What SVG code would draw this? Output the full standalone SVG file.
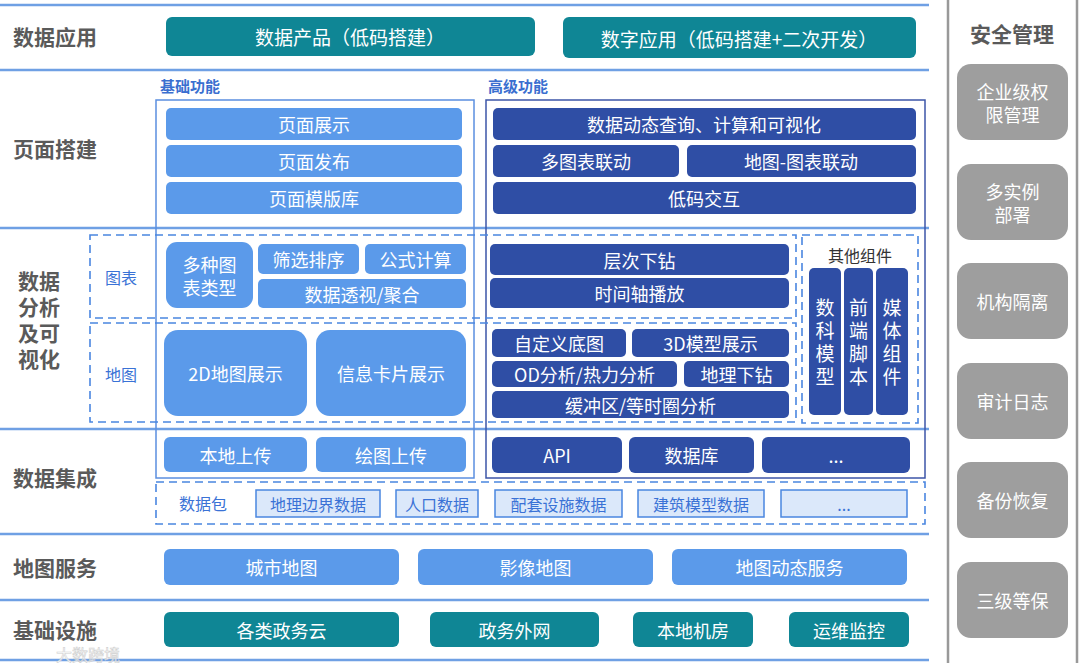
<svg xmlns="http://www.w3.org/2000/svg" width="1080" height="663" viewBox="0 0 1080 663">
<style>
text{font-family:"Noto Sans CJK SC","Noto Sans",sans-serif;}
.row{font-size:21px;font-weight:bold;fill:#5a5a5a;}
.sec{font-size:15px;font-weight:bold;fill:#3a6fd0;}
.lbl{font-size:16px;fill:#3a72d6;}
.wt{font-size:18px;fill:#ffffff;text-anchor:middle;dominant-baseline:central;}
.wl{font-size:19px;fill:#ffffff;text-anchor:middle;dominant-baseline:central;}
.teal{fill:#0f8695;}
.lb{fill:#5b9aea;}
.db{fill:#2f4ea5;}
.gray{fill:#9e9e9e;}
.pk{fill:#dbe8fa;stroke:#4a86e0;stroke-width:1.5;}
.pkt{font-size:16px;fill:#3a72d6;text-anchor:middle;dominant-baseline:central;}
.sep{stroke:#6fa0e4;stroke-width:2.5;}
.dash{fill:none;stroke:#4a86e0;stroke-width:1.6;stroke-dasharray:8 5;}
.vline{stroke:#999999;stroke-width:2.5;}
.sq{font-size:19px;fill:#ffffff;text-anchor:middle;writing-mode:vertical-rl;letter-spacing:4px;}
</style>
<rect width="1080" height="663" fill="#ffffff"/>

<g id="separators">
<line class="sep" x1="0" y1="5" x2="929" y2="5"/>
<line class="sep" x1="0" y1="70" x2="929" y2="70"/>
<line class="sep" x1="0" y1="228" x2="929" y2="228"/>
<line class="sep" x1="0" y1="429" x2="929" y2="429"/>
<line class="sep" x1="0" y1="534" x2="929" y2="534"/>
<line class="sep" x1="0" y1="600" x2="929" y2="600"/>
<line class="sep" x1="0" y1="660" x2="929" y2="660"/>
<line class="vline" x1="948" y1="0" x2="948" y2="663"/>
<line class="vline" x1="1077" y1="0" x2="1077" y2="663"/>
</g>

<g id="row-labels">
<text class="row" x="13" y="45">数据应用</text>
<text class="row" x="13" y="157">页面搭建</text>
<text class="row" x="18" y="289">数据</text>
<text class="row" x="18" y="315">分析</text>
<text class="row" x="18" y="341">及可</text>
<text class="row" x="18" y="367">视化</text>
<text class="row" x="13" y="486">数据集成</text>
<text class="row" x="13" y="576">地图服务</text>
<text class="row" x="13" y="638">基础设施</text>
</g>

<g id="data-app">
<g id="n-data-product"><rect class="teal" x="166" y="17" width="369" height="39" rx="6"/><text class="wl" x="350" y="36">数据产品（低码搭建）</text></g>
<g id="n-digital-app"><rect class="teal" x="563" y="17" width="353" height="41" rx="6"/><text class="wl" x="739" y="38">数字应用（低码搭建+二次开发）</text></g>
</g>

<g id="frames">
<text class="sec" x="160" y="92">基础功能</text>
<text class="sec" x="488" y="92">高级功能</text>
<rect x="156" y="100" width="318" height="378" fill="none" stroke="#5b8fe0" stroke-width="1.5"/>
<rect x="486" y="100" width="439" height="378" fill="none" stroke="#3c55a8" stroke-width="1.5"/>
<rect class="dash" x="90" y="235" width="706" height="83"/>
<rect class="dash" x="90" y="323" width="706" height="99"/>
<rect class="dash" x="802" y="235" width="116" height="188"/>
<rect class="dash" x="156" y="482" width="769" height="42"/>
<text class="lbl" x="121" y="277" text-anchor="middle" dominant-baseline="central">图表</text>
<text class="lbl" x="121" y="374" text-anchor="middle" dominant-baseline="central">地图</text>
<text x="860" y="255" font-size="16" fill="#333333" text-anchor="middle" dominant-baseline="central">其他组件</text>
<text class="lbl" x="203" y="503" text-anchor="middle" dominant-baseline="central">数据包</text>
</g>

<g id="page-basic">
<g id="n-page-show"><rect class="lb" x="166" y="108" width="296" height="32" rx="5"/><text class="wt" x="314" y="124">页面展示</text></g>
<g id="n-page-pub"><rect class="lb" x="166" y="145" width="296" height="32" rx="5"/><text class="wt" x="314" y="161">页面发布</text></g>
<g id="n-page-tpl"><rect class="lb" x="166" y="182" width="296" height="32" rx="5"/><text class="wt" x="314" y="198">页面模版库</text></g>
</g>

<g id="page-adv">
<g id="n-dyn"><rect class="db" x="493" y="108" width="423" height="32" rx="5"/><text class="wt" x="704" y="124">数据动态查询、计算和可视化</text></g>
<g id="n-multi"><rect class="db" x="493" y="145" width="186" height="32" rx="5"/><text class="wt" x="586" y="161">多图表联动</text></g>
<g id="n-mapchart"><rect class="db" x="687" y="145" width="229" height="32" rx="5"/><text class="wt" x="801" y="161">地图-图表联动</text></g>
<g id="n-lowcode"><rect class="db" x="493" y="182" width="423" height="32" rx="5"/><text class="wt" x="704" y="198">低码交互</text></g>
</g>

<g id="analysis-basic">
<g id="n-chart-types"><rect class="lb" x="166" y="242" width="87" height="66" rx="11"/><text class="wt" font-size="19"><tspan x="209.500" y="264">多种图</tspan><tspan x="209.500" y="287">表类型</tspan></text></g>
<g id="n-filter"><rect class="lb" x="258" y="244" width="101" height="30" rx="5"/><text class="wt" x="308.500" y="259">筛选排序</text></g>
<g id="n-formula"><rect class="lb" x="365" y="244" width="101" height="30" rx="5"/><text class="wt" x="415.500" y="259">公式计算</text></g>
<g id="n-pivot"><rect class="lb" x="258" y="279" width="208" height="29" rx="5"/><text class="wt" x="362" y="293.500">数据透视/聚合</text></g>
<g id="n-2dmap"><rect class="lb" x="164" y="330" width="143" height="86" rx="14"/><text class="wt" x="235.500" y="373" font-size="19">2D地图展示</text></g>
<g id="n-infocard"><rect class="lb" x="316" y="330" width="150" height="86" rx="14"/><text class="wt" x="391" y="373" font-size="19">信息卡片展示</text></g>
</g>

<g id="analysis-adv">
<g id="n-drill"><rect class="db" x="490" y="244" width="299" height="31" rx="5"/><text class="wt" x="639.500" y="259.500">层次下钻</text></g>
<g id="n-timeline"><rect class="db" x="490" y="278" width="299" height="30" rx="5"/><text class="wt" x="639.500" y="293">时间轴播放</text></g>
<g id="n-custom-base"><rect class="db" x="492" y="329" width="134" height="28" rx="5"/><text class="wt" x="559" y="343">自定义底图</text></g>
<g id="n-3d"><rect class="db" x="632" y="329" width="157" height="28" rx="5"/><text class="wt" x="710.500" y="343">3D模型展示</text></g>
<g id="n-od"><rect class="db" x="492" y="361" width="185" height="26" rx="5"/><text class="wt" x="584.500" y="374">OD分析/热力分析</text></g>
<g id="n-geodrill"><rect class="db" x="684" y="361" width="105" height="26" rx="5"/><text class="wt" x="736.500" y="374">地理下钻</text></g>
<g id="n-buffer"><rect class="db" x="492" y="391" width="297" height="27" rx="5"/><text class="wt" x="640.500" y="404.500">缓冲区/等时圈分析</text></g>
</g>

<g id="other-components">
<g id="n-dsmodel"><rect class="db" x="809" y="268" width="32" height="147" rx="5"/><text class="sq" x="825" y="344">数科模型</text></g>
<g id="n-frontend"><rect class="db" x="844" y="268" width="29" height="147" rx="5"/><text class="sq" x="858.500" y="344">前端脚本</text></g>
<g id="n-media"><rect class="db" x="876" y="268" width="32" height="147" rx="5"/><text class="sq" x="892" y="344">媒体组件</text></g>
</g>

<g id="integration">
<g id="n-local-up"><rect class="lb" x="164" y="437" width="143" height="35" rx="6"/><text class="wt" x="235.500" y="454.500">本地上传</text></g>
<g id="n-draw-up"><rect class="lb" x="316" y="437" width="150" height="35" rx="6"/><text class="wt" x="391" y="454.500">绘图上传</text></g>
<g id="n-api"><rect class="db" x="492" y="437" width="130" height="36" rx="6"/><text class="wt" x="557" y="455">API</text></g>
<g id="n-db"><rect class="db" x="629" y="437" width="125" height="36" rx="6"/><text class="wt" x="691.500" y="455">数据库</text></g>
<g id="n-more1"><rect class="db" x="762" y="437" width="148" height="36" rx="6"/><text class="wt" x="836" y="455">...</text></g>
</g>

<g id="data-package">
<g id="n-boundary"><rect class="pk" x="256" y="490" width="124" height="27"/><text class="pkt" x="318" y="503.500">地理边界数据</text></g>
<g id="n-pop"><rect class="pk" x="396" y="490" width="82" height="27"/><text class="pkt" x="437" y="503.500">人口数据</text></g>
<g id="n-facility"><rect class="pk" x="495" y="490" width="127" height="27"/><text class="pkt" x="558.500" y="503.500">配套设施数据</text></g>
<g id="n-building"><rect class="pk" x="638" y="490" width="126" height="27"/><text class="pkt" x="701" y="503.500">建筑模型数据</text></g>
<g id="n-more2"><rect class="pk" x="781" y="490" width="126" height="27"/><text class="pkt" x="844" y="503.500">...</text></g>
</g>

<g id="map-service">
<g id="n-city"><rect class="lb" x="164" y="549" width="235" height="36" rx="6"/><text class="wt" x="281.500" y="567">城市地图</text></g>
<g id="n-image"><rect class="lb" x="418" y="549" width="235" height="36" rx="6"/><text class="wt" x="535.500" y="567">影像地图</text></g>
<g id="n-dynmap"><rect class="lb" x="672" y="549" width="235" height="36" rx="6"/><text class="wt" x="789.500" y="567">地图动态服务</text></g>
</g>

<g id="infrastructure">
<g id="n-cloud"><rect class="teal" x="164" y="612" width="235" height="35" rx="6"/><text class="wt" x="281.500" y="629.500">各类政务云</text></g>
<g id="n-extnet"><rect class="teal" x="430" y="612" width="169" height="35" rx="6"/><text class="wt" x="514.500" y="629.500">政务外网</text></g>
<g id="n-idc"><rect class="teal" x="633" y="612" width="120" height="35" rx="6"/><text class="wt" x="693" y="629.500">本地机房</text></g>
<g id="n-ops"><rect class="teal" x="789" y="612" width="120" height="35" rx="6"/><text class="wt" x="849" y="629.500">运维监控</text></g>
</g>

<g id="security">
<text x="1012" y="33" font-size="21" font-weight="bold" fill="#5a5a5a" text-anchor="middle" dominant-baseline="central">安全管理</text>
<g id="n-perm"><rect class="gray" x="957" y="64" width="111" height="76" rx="14"/><text class="wt" font-size="19"><tspan x="1012.500" y="91">企业级权</tspan><tspan x="1012.500" y="114">限管理</tspan></text></g>
<g id="n-multi-inst"><rect class="gray" x="957" y="164" width="111" height="76" rx="14"/><text class="wt" font-size="19"><tspan x="1012.500" y="191">多实例</tspan><tspan x="1012.500" y="214">部署</tspan></text></g>
<g id="n-iso"><rect class="gray" x="957" y="263" width="111" height="76" rx="14"/><text class="wt" x="1012.500" y="301" font-size="19">机构隔离</text></g>
<g id="n-audit"><rect class="gray" x="957" y="363" width="111" height="76" rx="14"/><text class="wt" x="1012.500" y="401" font-size="19">审计日志</text></g>
<g id="n-backup"><rect class="gray" x="957" y="462" width="111" height="76" rx="14"/><text class="wt" x="1012.500" y="500" font-size="19">备份恢复</text></g>
<g id="n-mlps"><rect class="gray" x="957" y="562" width="111" height="76" rx="14"/><text class="wt" x="1012.500" y="600" font-size="19">三级等保</text></g>
</g>

<g id="watermark" opacity="0.85">
<text x="56" y="661" font-size="16" fill="#ffffff" stroke="#c8c8c8" stroke-width="0.6">大数跨境</text>
</g>
</svg>
